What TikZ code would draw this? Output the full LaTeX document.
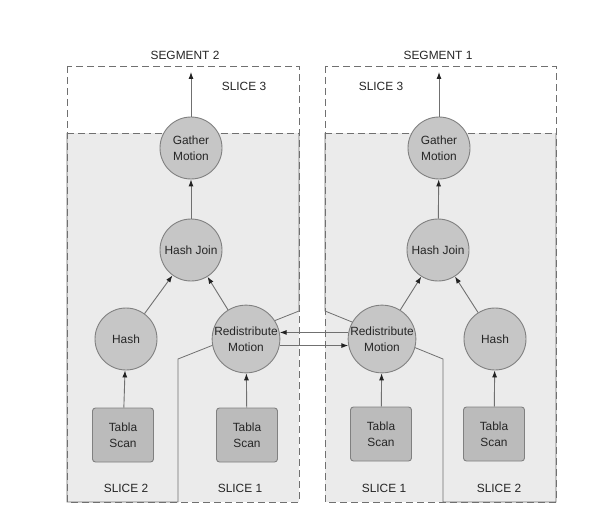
\documentclass[tikz,border=0pt]{standalone}
\usepackage{fontspec}
\setmainfont{Liberation Sans}
\usetikzlibrary{arrows.meta}
\definecolor{regionfill}{HTML}{EBEBEB}
\definecolor{circfill}{HTML}{C6C6C6}
\definecolor{boxfill}{HTML}{BBBBBB}
\definecolor{edgegray}{HTML}{808080}
\definecolor{linegray}{HTML}{707070}
\definecolor{tipgray}{HTML}{222222}
\tikzset{
  every node/.style={font=\fontsize{11.9}{15.5}\selectfont, text=black!85},
  opcircle/.style={circle, draw=edgegray, fill=circfill, line width=0.9pt, minimum size=62pt, inner sep=0pt, align=center},
  scanbox/.style={rectangle, rounded corners=3pt, draw=edgegray, fill=boxfill, line width=0.9pt, minimum width=61pt, minimum height=54pt, inner sep=0pt, align=center},
  segbox/.style={draw=linegray, line width=0.8pt, dash pattern=on 7pt off 4pt},
  slicebound/.style={draw=linegray, line width=0.8pt},
  arr/.style={draw=linegray, line width=0.9pt, -{Latex[length=7pt,width=5pt,color=tipgray]}},
  lbl/.style={inner sep=0pt}
}
\begin{document}
\begin{tikzpicture}[x=1pt,y=-1pt]
\useasboundingbox (0,0) rectangle (612,521);
% ---- Segment 2 (left) ----
\fill[regionfill] (67,133) rectangle (299,502);
\draw[segbox] (67,66) rectangle (299,502);
\draw[segbox] (67,133) -- (299,133);
\draw[slicebound] (299,133) -- (299,311) -- (178,359) -- (178,502) -- (67,502) -- (67,133);
% ---- Segment 1 (right) ----
\fill[regionfill] (325,133) rectangle (556,502);
\draw[segbox] (325,66) rectangle (556,502);
\draw[segbox] (325,133) -- (556,133);
\draw[slicebound] (325,133) -- (325,311) -- (443,359) -- (443,502) -- (556,502) -- (556,133);
% ---- labels ----
\node[lbl] (seg2) at (185,55) {SEGMENT 2};
\node[lbl] (seg1) at (438,55) {SEGMENT 1};
\node[lbl] (s3L) at (244,86) {SLICE 3};
\node[lbl] (s3R) at (381,86) {SLICE 3};
\node[lbl] (s2L) at (126,488) {SLICE 2};
\node[lbl] (s1L) at (240,488) {SLICE 1};
\node[lbl] (s1R) at (384,488) {SLICE 1};
\node[lbl] (s2R) at (499,488) {SLICE 2};
% ---- left nodes ----
\node[opcircle] (gL) at (191,148) {Gather\\Motion};
\node[opcircle] (hjL) at (191,250) {Hash Join};
\node[opcircle] (hL) at (126,339) {Hash};
\node[opcircle] (rL) at (246,339) {Redistribute\\Motion};
\node[scanbox] (tL2) at (123,435) {Tabla\\Scan};
\node[scanbox] (tL1) at (247,435) {Tabla\\Scan};
\coordinate (outL) at (191,72);
% ---- right nodes ----
\node[opcircle] (gR) at (439,148) {Gather\\Motion};
\node[opcircle] (hjR) at (438,250) {Hash Join};
\node[opcircle] (rR) at (382,339) {Redistribute\\Motion};
\node[opcircle] (hR) at (495,339) {Hash};
\node[scanbox] (tR1) at (381,434) {Tabla\\Scan};
\node[scanbox] (tR2) at (494,434) {Tabla\\Scan};
\coordinate (outR) at (439,72);
% ---- arrows ----
\draw[arr] (gL) -- (outL);
\draw[arr] (hjL) -- (gL);
\draw[arr] (hL) -- (hjL);
\draw[arr] (rL) -- (hjL);
\draw[arr] (tL2) -- (hL);
\draw[arr] (tL1) -- (rL);
\draw[arr] (gR) -- (outR);
\draw[arr] (hjR) -- (gR);
\draw[arr] (rR) -- (hjR);
\draw[arr] (hR) -- (hjR);
\draw[arr] (tR1) -- (rR);
\draw[arr] (tR2) -- (hR);
\draw[arr] (rR.169) -- (rL.11);
\draw[arr] (rL.-11) -- (rR.191);
\end{tikzpicture}
\end{document}
